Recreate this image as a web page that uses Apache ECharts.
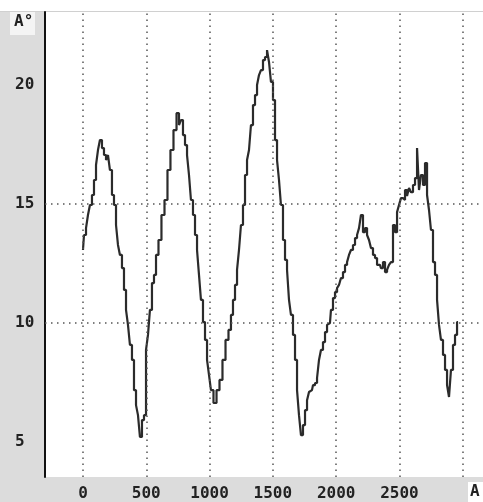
<!DOCTYPE html>
<html><head><meta charset="utf-8">
<script src="https://cdn.jsdelivr.net/npm/echarts@6/dist/echarts.min.js"></script>
<style>html,body{margin:0;padding:0;background:#fff}#c{width:483px;height:502px}</style>
</head><body><div id="c"></div>
<script>
const xTicks = [0, 500, 1000, 1500, 2000, 2500];
const yTicks = [5, 10, 15, 20];
const xGrid = [0, 500, 1000, 1500, 2000, 2500, 3000];
const yGrid = [10, 15];
const xs = [0,16,32,47,63,79,95,111,126,142,158,174,190,205,221,237,253,269,284,300,316,332,348,363,379,395,411,427,442,458,474,490,506,521,537,553,569,585,608,632,656,679,703,727,751,766,782,798,814,830,845,861,877,893,909,924,940,956,972,988,1003,1019,1043,1067,1090,1114,1138,1161,1177,1193,1209,1225,1240,1256,1272,1288,1304,1319,1335,1351,1367,1383,1398,1414,1430,1446,1462,1477,1493,1509,1525,1541,1556,1572,1588,1604,1620,1635,1651,1667,1683,1699,1714,1730,1746,1762,1778,1793,1809,1825,1841,1857,1872,1888,1904,1920,1936,1951,1967,1983,1999,2015,2030,2046,2062,2078,2094,2109,2125,2141,2157,2173,2188,2204,2220,2236,2252,2267,2283,2299,2315,2331,2346,2362,2378,2394,2410,2425,2441,2457,2473,2489,2504,2520,2536,2552,2568,2583,2599,2615,2631,2647,2662,2678,2694,2710,2726,2741,2757,2773,2789,2805,2820,2836,2852,2868,2884,2899,2915,2931,2947,2963];
const ys = [13.07,13.70,13.99,14.54,14.96,15.38,16.01,16.64,17.27,17.69,17.35,17.06,16.85,17.06,16.43,15.38,14.96,14.12,13.28,12.86,12.31,11.39,10.55,9.92,9.08,8.45,7.18,6.55,6.13,5.21,5.92,6.13,8.87,9.50,10.55,11.68,12.02,12.86,13.49,14.54,15.17,16.43,17.27,18.11,18.82,18.32,18.53,17.90,17.48,17.06,16.22,15.17,14.54,13.70,13.07,12.02,10.97,10.04,9.29,8.45,7.82,7.18,6.64,7.18,7.61,8.45,9.29,9.71,10.34,10.97,11.60,12.23,13.07,14.12,14.96,16.22,16.85,17.27,18.32,19.16,19.58,20.00,20.42,20.63,21.05,21.18,21.47,20.97,20.13,19.37,17.69,16.85,16.01,14.96,13.49,12.65,12.23,10.97,10.34,9.50,8.45,7.18,6.13,5.29,5.71,6.34,6.76,7.10,7.18,7.39,7.48,7.69,8.45,8.87,9.20,9.62,9.92,10.00,10.55,11.05,11.30,11.47,11.60,11.89,12.14,12.44,12.56,12.86,13.07,13.28,13.57,13.70,13.99,14.54,13.82,13.99,13.70,13.49,13.15,12.86,12.73,12.44,12.44,12.31,12.56,12.14,12.23,12.44,12.56,14.12,13.82,14.66,14.96,15.25,15.17,15.59,15.34,15.67,15.50,15.80,16.09,17.35,15.59,16.22,15.80,16.72,15.38,14.75,13.91,12.56,12.02,10.97,9.92,9.29,8.66,8.03,7.39,6.89,8.03,9.08,9.50,10.04];

const pts = xs.map((x, i) => [x, ys[i]]);
const font = '"DejaVu Sans Mono", monospace';
const chart = echarts.init(document.getElementById('c'), null, {renderer: 'canvas'});
const dotted = {color: '#555', width: 1.5, type: [1.5, 4.5]};
chart.setOption({
  animation: false,
  backgroundColor: '#ffffff',
  graphic: [
    {type: 'rect', shape: {x: 0, y: 12, width: 45, height: 490}, style: {fill: '#dcdcdc'}, z: -10},
    {type: 'rect', shape: {x: 45, y: 477, width: 438, height: 25}, style: {fill: '#dcdcdc'}, z: -10},
    {type: 'rect', shape: {x: 0, y: 11, width: 483, height: 1}, style: {fill: '#d0d0d0'}, z: -10},
    {type: 'rect', shape: {x: 10, y: 12, width: 25, height: 23}, style: {fill: '#f4f4f4'}, z: -9},
    {type: 'rect', shape: {x: 468, y: 482, width: 15, height: 20}, style: {fill: '#ffffff'}, z: -9},
    {type: 'text', left: 14, top: 14, style: {text: 'A°', font: 'bold 16px ' + font, fill: '#222'}},
    {type: 'text', left: 470, top: 484, style: {text: "A'", font: 'bold 16px ' + font, fill: '#222'}}
  ],
  grid: {left: 45, right: 0, top: 12, bottom: 25, show: false},
  xAxis: {
    type: 'value', min: -300, max: 3160,
    axisLine: {show: false, onZero: false}, axisTick: {show: false}, splitLine: {show: false},
    axisLabel: {customValues: xTicks, formatter: v => String(v), margin: 9, fontFamily: font, fontSize: 16, fontWeight: 'bold', color: '#222'}
  },
  yAxis: {
    type: 'value', min: 3.53, max: 23.07,
    axisLine: {show: true, onZero: false, lineStyle: {color: '#111', width: 2}}, axisTick: {show: false}, splitLine: {show: false},
    axisLabel: {customValues: yTicks, formatter: v => String(v), margin: 30, align: 'left', fontFamily: font, fontSize: 16, fontWeight: 'bold', color: '#222'}
  },
  series: [
    {
      type: 'line', data: [], z: 1, silent: true,
      markLine: {
        silent: true, symbol: 'none', label: {show: false}, lineStyle: dotted, animation: false,
        data: xGrid.map(v => ({xAxis: v})).concat(yGrid.map(v => ({yAxis: v})))
      }
    },
    {
      type: 'line', data: pts, z: 3, symbol: 'none', showSymbol: false, step: 'middle',
      lineStyle: {color: '#2b2b2b', width: 2.2}
    }
  ]
});
</script></body></html>
